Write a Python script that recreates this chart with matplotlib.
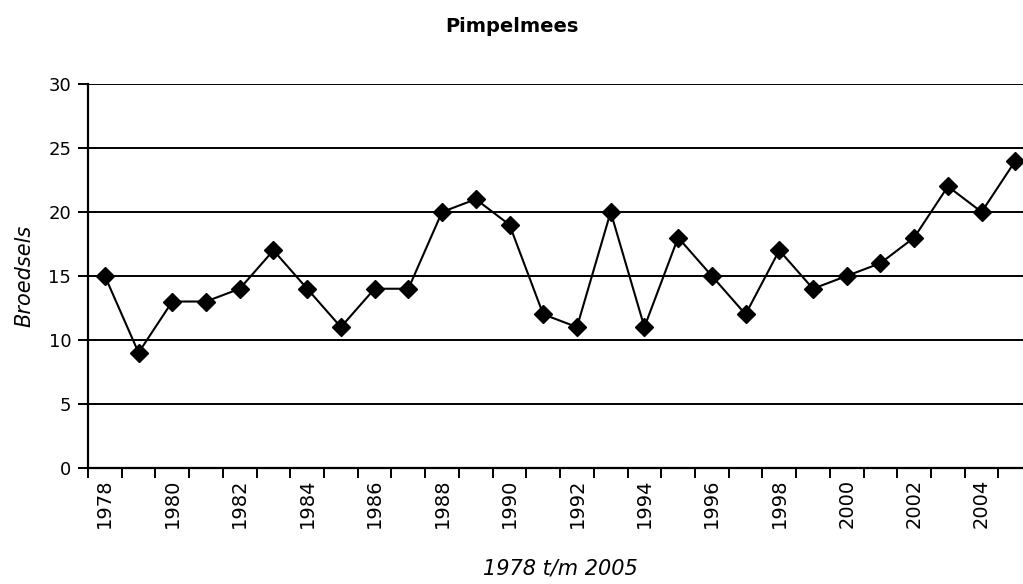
import numpy as np
import matplotlib.pyplot as plt

# Pimpelmees broedsels per jaar, 1978 t/m 2005
years = list(range(1978, 2006))
broedsels = [15, 9, 13, 13, 14, 17, 14, 11, 14, 14,
             20, 21, 19, 12, 11, 20, 11, 18, 15, 12,
             17, 14, 15, 16, 18, 22, 20, 24]
yticks = [0, 5, 10, 15, 20, 25, 30]
xlabel_years = list(range(1978, 2006, 2))


def main():
    fig = plt.figure(figsize=(10.23, 5.84), dpi=100)
    ax = fig.add_axes([0.086, 0.199, 0.923, 0.657])

    ax.plot(years, broedsels, "-", color="black", lw=1.5,
            marker="D", markersize=9, markerfacecolor="black", zorder=3)

    ax.set_ylim(0, 30)
    ax.set_xlim(years[0] - 0.5, years[-1] + 0.5)
    ax.set_yticks(yticks)
    ax.yaxis.grid(True, color="black", linewidth=1.4)
    ax.set_axisbelow(True)

    ax.set_xticks(xlabel_years, [str(y) for y in xlabel_years], rotation=90)
    ax.set_xticks(np.arange(years[0] - 0.5, years[-1] + 1.0, 1.0), minor=True)
    ax.tick_params(axis="x", which="major", length=0, pad=8, labelsize=14)
    ax.tick_params(axis="x", which="minor", length=7, width=1.4, direction="out")
    ax.tick_params(axis="y", length=7, width=1.4, direction="out", labelsize=13, pad=5)

    for side in ["top", "right"]:
        ax.spines[side].set_visible(False)
    for side in ["left", "bottom"]:
        ax.spines[side].set_linewidth(1.6)

    ax.set_ylabel("Broedsels", fontsize=15, style="italic", labelpad=10)
    ax.set_xlabel("1978 t/m 2005", fontsize=15, style="italic", labelpad=22)
    fig.text(0.5, 0.955, "Pimpelmees", ha="center", va="center",
             fontsize=14, weight="bold")

    fig.savefig("out.png", dpi=100)


if __name__ == '__main__':
    main()
